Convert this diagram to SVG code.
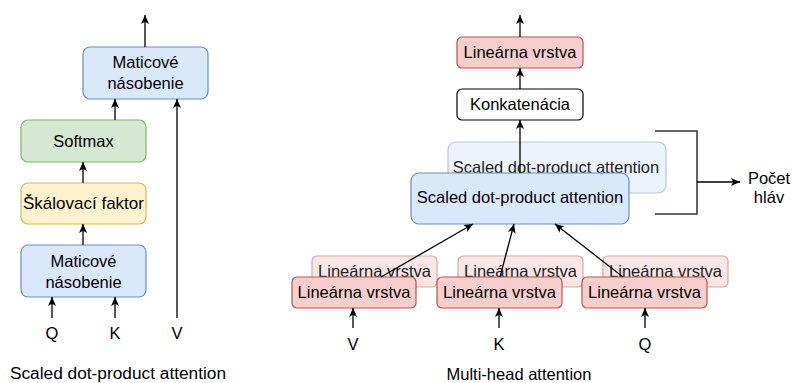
<svg xmlns="http://www.w3.org/2000/svg" width="792" height="383" viewBox="0 0 792 383">
  <style>
    text { font-family: "Liberation Sans", Arial, sans-serif; font-size: 16.5px; fill: #000; text-anchor: middle; }
    .blue { fill: #dae8fc; stroke: #6c8ebf; stroke-width: 1.2; }
    .green { fill: #d5e8d4; stroke: #82b366; stroke-width: 1.2; }
    .yellow { fill: #fff2cc; stroke: #d6b656; stroke-width: 1.2; }
    .red { fill: #f8cecc; stroke: #b85450; stroke-width: 1.2; }
    .plain { fill: #ffffff; stroke: #000000; stroke-width: 1.2; }
    .ghost rect { opacity: 0.5; }
    .ghost text { fill: #222; }
    .edge-arrow { fill: none; stroke: #000; stroke-width: 1.3; marker-end: url(#arrow); }
    .bracket { fill: none; stroke: #333; stroke-width: 1.5; }
  </style>
  <defs>
    <marker id="arrow" viewBox="0 0 9 8" refX="9" refY="4" markerWidth="9" markerHeight="8" markerUnits="userSpaceOnUse" orient="auto">
      <path d="M9,4 L0,0 L2.2,4 L0,8 Z" fill="#000"/>
    </marker>
  </defs>

  <!-- Scaled dot-product attention -->
  <g id="sdpa-matmul-out">
    <rect class="blue" x="83" y="47" width="125" height="52" rx="7"/>
    <text x="145.5" y="68">Maticové</text>
    <text x="145.5" y="89">násobenie</text>
  </g>
  <g id="sdpa-softmax">
    <rect class="green" x="21" y="120" width="125" height="42" rx="7"/>
    <text x="83.5" y="147">Softmax</text>
  </g>
  <g id="sdpa-scale">
    <rect class="yellow" x="21" y="183" width="125" height="41" rx="7"/>
    <text x="83.5" y="209" style="font-size:17px">Škálovací faktor</text>
  </g>
  <g id="sdpa-matmul-in">
    <rect class="blue" x="21" y="245" width="125" height="52" rx="7"/>
    <text x="83.5" y="267">Maticové</text>
    <text x="83.5" y="288">násobenie</text>
  </g>
  <g id="sdpa-inputs">
    <text x="52" y="339">Q</text>
    <text x="115" y="339">K</text>
    <text x="177" y="339">V</text>
  </g>
  <text id="sdpa-title" x="118" y="379" style="font-size:17.3px">Scaled dot-product attention</text>

  <!-- Multi-head attention -->
  <g id="mha-linear-out">
    <rect class="red" x="457" y="37" width="126" height="31" rx="5"/>
    <text x="520" y="58">Lineárna vrstva</text>
  </g>
  <g id="mha-concat">
    <rect class="plain" x="457" y="89" width="126" height="31" rx="5"/>
    <text x="520" y="110">Konkatenácia</text>
  </g>
  <g id="mha-head-back" class="ghost">
    <rect class="blue" x="448" y="142" width="218" height="51" rx="8"/>
    <text x="556" y="173">Scaled dot-product attention</text>
  </g>
  <g id="mha-head-front">
    <rect class="blue" x="411" y="173" width="218" height="51" rx="8"/>
    <text x="520" y="203">Scaled dot-product attention</text>
  </g>

  <g id="mha-linear-v-back" class="ghost">
    <rect class="red" x="312" y="256" width="125" height="31" rx="5"/>
    <text x="374.5" y="277">Lineárna vrstva</text>
  </g>
  <g id="mha-linear-k-back" class="ghost">
    <rect class="red" x="458" y="256" width="125" height="31" rx="5"/>
    <text x="520.5" y="277">Lineárna vrstva</text>
  </g>
  <g id="mha-linear-q-back" class="ghost">
    <rect class="red" x="603" y="256" width="125" height="31" rx="5"/>
    <text x="665.5" y="277">Lineárna vrstva</text>
  </g>
  <g id="mha-linear-v">
    <rect class="red" x="292" y="277" width="124" height="31" rx="5"/>
    <text x="354" y="298">Lineárna vrstva</text>
  </g>
  <g id="mha-linear-k">
    <rect class="red" x="437" y="277" width="125" height="31" rx="5"/>
    <text x="499.5" y="298">Lineárna vrstva</text>
  </g>
  <g id="mha-linear-q">
    <rect class="red" x="582" y="277" width="125" height="31" rx="5"/>
    <text x="644.5" y="298">Lineárna vrstva</text>
  </g>
  <g id="mha-inputs">
    <text x="353" y="350">V</text>
    <text x="499" y="350">K</text>
    <text x="645" y="350">Q</text>
  </g>
  <g id="mha-heads-label">
    <text x="769" y="184">Počet</text>
    <text x="769" y="203">hláv</text>
  </g>
  <text id="mha-title" x="519" y="380">Multi-head attention</text>

  <!-- Connectors -->
  <g id="connectors">
    <!-- left block -->
    <line class="edge-arrow" x1="145" y1="47" x2="145" y2="15"/>
    <line class="edge-arrow" x1="115" y1="120" x2="115" y2="99"/>
    <line class="edge-arrow" x1="83" y1="183" x2="83" y2="162"/>
    <line class="edge-arrow" x1="83" y1="245" x2="83" y2="224"/>
    <line class="edge-arrow" x1="52" y1="318" x2="52" y2="297"/>
    <line class="edge-arrow" x1="115" y1="318" x2="115" y2="297"/>
    <line class="edge-arrow" x1="177" y1="318" x2="177" y2="99"/>
    <!-- right block -->
    <line class="edge-arrow" x1="520" y1="37" x2="520" y2="15"/>
    <line class="edge-arrow" x1="520" y1="89" x2="520" y2="68"/>
    <line class="edge-arrow" x1="520" y1="173" x2="520" y2="120"/>
    <line class="edge-arrow" x1="381" y1="277" x2="473" y2="224"/>
    <line class="edge-arrow" x1="500" y1="277" x2="514" y2="224"/>
    <line class="edge-arrow" x1="623" y1="277" x2="555" y2="224"/>
    <line class="edge-arrow" x1="353" y1="328" x2="353" y2="308"/>
    <line class="edge-arrow" x1="499" y1="328" x2="499" y2="308"/>
    <line class="edge-arrow" x1="645" y1="328" x2="645" y2="308"/>
    <!-- head-count bracket -->
    <path class="bracket" d="M655,131 H697 V214 H655"/>
    <line class="edge-arrow" x1="697" y1="182" x2="740" y2="182"/>
  </g>
</svg>
